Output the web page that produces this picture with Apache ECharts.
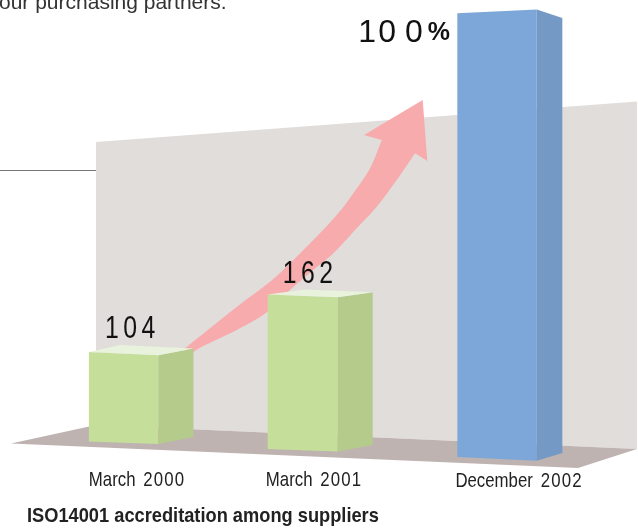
<!DOCTYPE html>
<html>
<head>
<meta charset="utf-8">
<style>html,body{margin:0;padding:0;background:#fff}#chart{width:638px;height:529px}</style>
<script src="https://cdn.jsdelivr.net/npm/echarts@6/dist/echarts.min.js"></script>
</head>
<body>
<div id="chart"></div>
<script>
// Supplier accreditation figures
const categories = ['March 2000', 'March 2001', 'December 2002'];
const supplierCounts = [104, 162];
const supplierShare = [100];
const chartTitle = 'ISO14001 accreditation among suppliers';
const introLine = 'our purchasing partners.';

// Box shape for each category: widths and the slant of each edge, in pixels
const boxes = [
  { nudge: 0, front: 69.5, side: 35, topDrop: 3.3, footDrop: 2.4, sideTop: -6.7, sideFoot: -7, backX: 31, backDy: -7,
    labelDx: 16, labelDy: -6.5, tickX: 137, tickY: 480 },
  { nudge: -5.3, front: 70, side: 35, topDrop: 2.7, footDrop: 2.5, sideTop: -5, sideFoot: -6.5, backX: 37, backDy: -5,
    labelDx: 15, labelDy: -4.5, tickX: 314, tickY: 480 },
  { nudge: 0, front: 79.4, side: 25.6, topDrop: -3.7, footDrop: 3.7, sideTop: 8.4, sideFoot: -7.7,
    labelDx: -99, labelDy: 36, tickX: 519, tickY: 481 }
];
const floorSlope = 0.042, floorRefX = 457;

const greens = { front: '#c5df9b', side: '#b5cb8c', top: '#e8f2dc' };
const blues = { front: '#7da7d9', side: '#7599c5' };
const inkColor = '#111111';
const sans = '"Liberation Sans",sans-serif';

// Per-character tokens give the tracked-out look of the figures
function tracked(str, digitStyle) {
  return str.split('').map((c, k) => {
    if (c === ' ') return '{w| }';
    if (/[0-9]/.test(c)) return '{' + digitStyle(k) + '|' + c + '}';
    return '{t|' + c + '}';
  }).join('');
}

// Catmull-Rom sampling for the arrow's curved edges
function curve(pts) {
  const out = [];
  for (let i = 0; i < pts.length - 1; i++) {
    const p0 = pts[Math.max(i - 1, 0)], p1 = pts[i], p2 = pts[i + 1], p3 = pts[Math.min(i + 2, pts.length - 1)];
    for (let k = 0; k < 12; k++) {
      const t = k / 12, t2 = t * t, t3 = t2 * t;
      out.push([0, 1].map(a => 0.5 * (2 * p1[a] + (p2[a] - p0[a]) * t +
        (2 * p0[a] - 5 * p1[a] + 4 * p2[a] - p3[a]) * t2 + (3 * p1[a] - p0[a] - 3 * p2[a] + p3[a]) * t3)));
    }
  }
  out.push(pts[pts.length - 1]);
  return out;
}

const arrowOutline = [].concat(
  curve([[184, 349], [236.7, 307], [270, 281.7], [290, 263.3], [313.3, 240], [336.7, 215], [353.3, 193.3], [370, 168.3], [381.7, 140]]),
  [[364, 135], [422.7, 100], [427.3, 161]],
  curve([[415, 153.3], [396.7, 180], [376.7, 206.7], [356.7, 228.3], [333.3, 253.3], [313.3, 270], [290, 290], [267.7, 311.7], [236.7, 330], [203.3, 346], [192, 353]])
);

function poly(points, fill) {
  return { type: 'polygon', shape: { points }, style: { fill } };
}

function renderBox(colors, percent) {
  return function (params, api) {
    const i = api.value(0), v = api.value(1);
    const b = boxes[i];
    const top = api.coord([i, v]);
    const axisBase = api.coord([i, percent ? 0 : 24])[1];
    const left = top[0] + b.nudge - (b.front + b.side) / 2;
    const right = left + b.front;
    const foot = axisBase + (left - floorRefX) * floorSlope;
    const head = foot - (axisBase - top[1]);
    const topR = head + b.topDrop, footR = foot + b.footDrop;
    const children = [
      poly([[left, head], [right, topR], [right, footR], [left, foot]], colors.front),
      poly([[right, topR], [right + b.side, topR + b.sideTop], [right + b.side, footR + b.sideFoot], [right, footR]], colors.side)
    ];
    if (colors.top) {
      children.push(poly([[left, head], [left + b.backX, head + b.backDy], [right + b.side, topR + b.sideTop], [right, topR]], colors.top));
    }
    children.push({
      type: 'text', x: left + b.labelDx, y: head + b.labelDy,
      scaleX: percent ? 1 : 0.8,
      style: percent ? {
        text: tracked(String(v), k => ['p0', 'p1', 'p2'][k]) + '{s|%}', verticalAlign: 'bottom', rich: {
          p0: { font: '32px ' + sans, fill: inkColor, padding: [0, 2, 0, 0] },
          p1: { font: '32px ' + sans, fill: inkColor, padding: [0, 9, 0, 0] },
          p2: { font: '32px ' + sans, fill: inkColor, padding: [0, 5, 0, 0] },
          s: { font: 'bold 25px ' + sans, fill: inkColor }
        }
      } : {
        text: tracked(String(v), () => 'd'), verticalAlign: 'bottom', rich: {
          d: { font: '31px ' + sans, fill: inkColor, padding: [0, 5.6, 0, 0] }
        }
      }
    });
    children.push({
      type: 'text', x: b.tickX, y: b.tickY, scaleX: 0.8,
      style: {
        text: tracked(categories[i], () => 'n'), align: 'center', verticalAlign: 'middle', rich: {
          t: { font: '21px ' + sans, fill: '#222' },
          n: { font: '21px ' + sans, fill: '#222', padding: [0, 1.4, 0, 0] },
          w: { font: '21px ' + sans, fill: '#222', padding: [0, 4, 0, 0] }
        }
      }
    });
    return { type: 'group', children };
  };
}

const chart = echarts.init(document.getElementById('chart'));
chart.setOption({
  animation: false,
  backgroundColor: '#ffffff',
  grid: { left: 49, width: 553, top: 0, height: 457 },
  xAxis: { type: 'category', data: categories, show: false },
  yAxis: [
    { type: 'value', min: 24, max: 432, show: false },
    { type: 'value', min: 0, max: 103, show: false }
  ],
  graphic: [
    { type: 'polygon', z: 1, shape: { points: [[96, 142], [637, 101.5], [637, 449], [96, 425]] }, style: { fill: '#e1dddb' } },
    { type: 'polygon', z: 2, shape: { points: [[11, 443.6], [96, 425], [637, 449], [578, 468]] }, style: { fill: '#beb3b1' } },
    { type: 'line', z: 1, shape: { x1: 0, y1: 170.5, x2: 96, y2: 170.5 }, style: { stroke: '#777', lineWidth: 1 } },
    { type: 'polygon', z: 3, shape: { points: arrowOutline }, style: { fill: '#f8abad' } },
    { type: 'text', z: 3, x: -1, y: 13.5, style: { text: introLine, font: '21px ' + sans, fill: '#333', verticalAlign: 'bottom' } },
    { type: 'text', z: 3, x: 27, y: 516, scaleX: 0.89, style: { text: chartTitle, font: 'bold 20.5px ' + sans, fill: '#222', verticalAlign: 'middle' } }
  ],
  series: [
    { type: 'custom', z: 5, xAxisIndex: 0, yAxisIndex: 0, clip: false, silent: true,
      data: supplierCounts.map((v, i) => [i, v]), renderItem: renderBox(greens, false) },
    { type: 'custom', z: 5, xAxisIndex: 0, yAxisIndex: 1, clip: false, silent: true,
      data: supplierShare.map((v, i) => [i + supplierCounts.length, v]), renderItem: renderBox(blues, true) }
  ]
});
</script>
</body>
</html>
